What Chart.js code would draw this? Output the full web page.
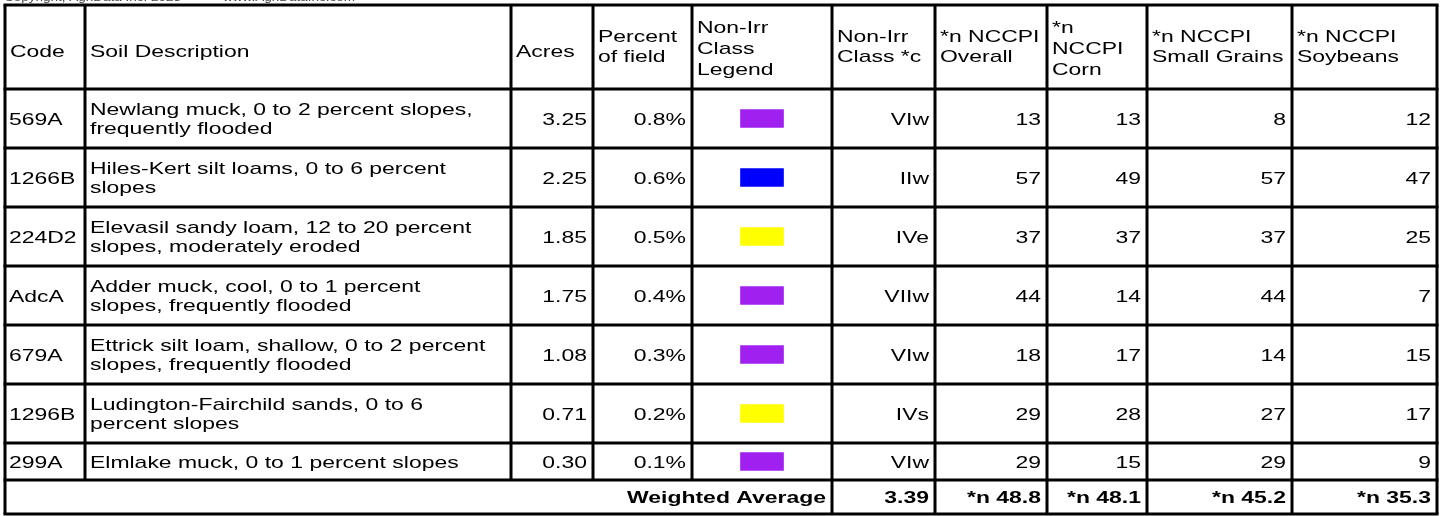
<!DOCTYPE html>
<html>
<head>
<meta charset="utf-8">
<script src="https://cdn.jsdelivr.net/npm/chart.js@4.4.1/dist/chart.umd.min.js"></script>
<style>
  html, body { margin: 0; padding: 0; background: #fff; }
  canvas { display: block; }
</style>
</head>
<body>
<canvas id="soils" width="1445" height="516"></canvas>
<script>
// table data
const headers = [
  ["Code"], ["Soil Description"], ["Acres"], ["Percent", "of field"],
  ["Non-Irr", "Class", "Legend"], ["Non-Irr", "Class *c"], ["*n NCCPI", "Overall"],
  ["*n", "NCCPI", "Corn"], ["*n NCCPI", "Small Grains"], ["*n NCCPI", "Soybeans"]
]
const codes = ["569A", "1266B", "224D2", "AdcA", "679A", "1296B", "299A"]
const descriptions = [
  ["Newlang muck, 0 to 2 percent slopes,", "frequently flooded"],
  ["Hiles-Kert silt loams, 0 to 6 percent", "slopes"],
  ["Elevasil sandy loam, 12 to 20 percent", "slopes, moderately eroded"],
  ["Adder muck, cool, 0 to 1 percent", "slopes, frequently flooded"],
  ["Ettrick silt loam, shallow, 0 to 2 percent", "slopes, frequently flooded"],
  ["Ludington-Fairchild sands, 0 to 6", "percent slopes"],
  ["Elmlake muck, 0 to 1 percent slopes"]
]
const acres = [3.25, 2.25, 1.85, 1.75, 1.08, 0.71, 0.30]
const percentOfField = [0.8, 0.6, 0.5, 0.4, 0.3, 0.2, 0.1]
const legendColors = ["#a020f0", "#0000ff", "#ffff00", "#a020f0", "#a020f0", "#ffff00", "#a020f0"]
const nonIrrClass = ["VIw", "IIw", "IVe", "VIIw", "VIw", "IVs", "VIw"]
const nccpiOverall = [13, 57, 37, 44, 18, 29, 29]
const nccpiCorn = [13, 49, 37, 14, 17, 28, 15]
const nccpiSmallGrains = [8, 57, 37, 44, 14, 27, 29]
const nccpiSoybeans = [12, 47, 25, 7, 15, 17, 9]
const weightedLabel = "Weighted Average"
const weightedValues = ["3.39", "*n 48.8", "*n 48.1", "*n 45.2", "*n 35.3"]
const topNotes = ["Copyright, AgriData Inc. 2023", "www.AgriDataInc.com"]

// layout (in scale units, 1 unit = 1px)
const colEdges = [5, 85, 511, 593, 692, 832, 935, 1047, 1147, 1292, 1437]
const rowEdges = [5, 89, 148, 207, 266, 325, 384, 443, 480, 514]
const SX = 1.35          // page was stretched sideways
const FONT = "17px 'Liberation Sans', Arial, sans-serif"
const BOLD = "bold 17px 'Liberation Sans', Arial, sans-serif"
const LINE_H = 19
const SWATCH_W = 43

const rowMid = i => (rowEdges[i + 1] + rowEdges[i + 2]) / 2
const legendMid = (colEdges[4] + colEdges[5]) / 2

function txt(ctx, s, x, y, align, font, color) {
  ctx.save()
  ctx.font = font || FONT
  ctx.fillStyle = color || "#000"
  ctx.textAlign = align
  ctx.textBaseline = "alphabetic"
  ctx.translate(x, y)
  ctx.scale(SX, 1)
  ctx.fillText(s, 0, 0)
  ctx.restore()
}

const tablePlugin = {
  id: "tableGrid",
  afterDatasetsDraw(chart) {
    const { ctx, scales: { x, y } } = chart
    const px = v => x.getPixelForValue(v)
    const py = v => y.getPixelForValue(v)
    const L = px(colEdges[0]), R = px(colEdges[colEdges.length - 1])
    const last = rowEdges.length - 1

    // note line above the table, mostly cut off by the page edge
    const small = "10px 'Liberation Sans', Arial, sans-serif"
    txt(ctx, topNotes[0], px(4), py(1), "left", small, "#444")
    txt(ctx, topNotes[1], px(223), py(1), "left", small, "#444")

    // grid
    ctx.fillStyle = "#000"
    rowEdges.forEach(r => ctx.fillRect(L - 1.5, py(r) - 1.5, R - L + 3, 3))
    colEdges.forEach((c, j) => {
      const top = py(rowEdges[0])
      const bot = (j === 0 || j >= 5) ? py(rowEdges[last]) : py(rowEdges[last - 1])
      ctx.fillRect(px(c) - 1.5, top, 3, bot - top)
    })

    // header text
    const baseFor = { 1: [57], 2: [42, 62], 3: [33, 54, 75] }
    headers.forEach((lines, j) => {
      lines.forEach((s, k) => txt(ctx, s, px(colEdges[j]) + 5, py(baseFor[lines.length][k]), "left"))
    })

    // body rows
    const right = j => px(colEdges[j + 1]) - 6
    codes.forEach((code, i) => {
      const b = py(rowMid(i)) + 6
      txt(ctx, code, px(colEdges[0]) + 4, b, "left")
      const d = descriptions[i]
      d.forEach((s, k) => txt(ctx, s, px(colEdges[1]) + 5, b - (d.length - 1) * LINE_H / 2 + k * LINE_H, "left"))
      txt(ctx, acres[i].toFixed(2), right(2), b, "right")
      txt(ctx, percentOfField[i].toFixed(1) + "%", right(3), b, "right")
      txt(ctx, nonIrrClass[i], right(5), b, "right")
      txt(ctx, String(nccpiOverall[i]), right(6), b, "right")
      txt(ctx, String(nccpiCorn[i]), right(7), b, "right")
      txt(ctx, String(nccpiSmallGrains[i]), right(8), b, "right")
      txt(ctx, String(nccpiSoybeans[i]), right(9), b, "right")
    })

    // weighted average row
    const fb = (py(rowEdges[last - 1]) + py(rowEdges[last])) / 2 + 6
    txt(ctx, weightedLabel, px(colEdges[5]) - 6, fb, "right", BOLD)
    weightedValues.forEach((s, k) => txt(ctx, s, px(colEdges[6 + k]) - 6, fb, "right", BOLD))
  }
}

new Chart(document.getElementById("soils"), {
  type: "bar",
  data: {
    datasets: [{
      label: "Non-Irr Class Legend",
      data: codes.map((c, i) => ({ y: rowMid(i), x: [legendMid - SWATCH_W / 2, legendMid + SWATCH_W / 2] })),
      backgroundColor: legendColors,
      borderWidth: 0,
      barThickness: 18
    }]
  },
  options: {
    indexAxis: "y",
    responsive: false,
    animation: false,
    devicePixelRatio: 1,
    layout: { padding: 0 },
    plugins: { legend: { display: false }, tooltip: { enabled: false } },
    scales: {
      x: { type: "linear", min: 0, max: 1445, offset: false, display: false },
      y: { type: "linear", min: 0, max: 516, reverse: true, offset: false, display: false }
    }
  },
  plugins: [tablePlugin]
})
</script>
</body>
</html>
